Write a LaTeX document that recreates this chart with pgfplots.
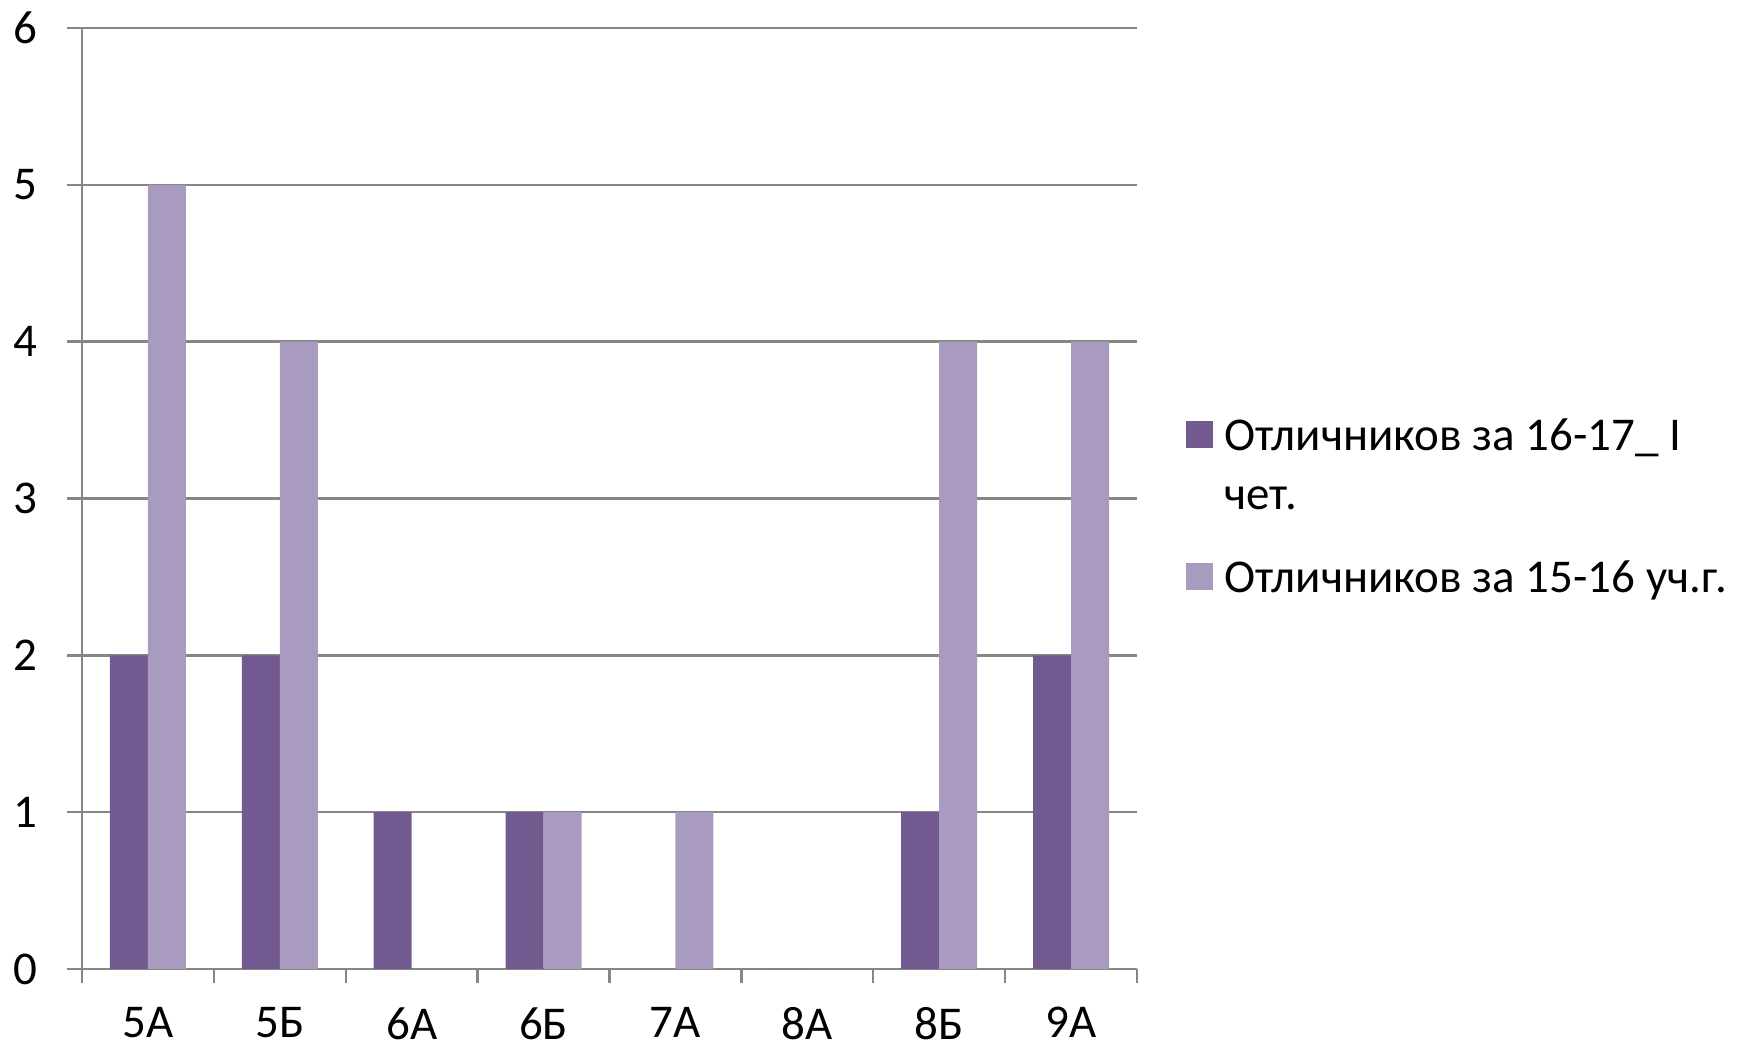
\documentclass[border=0pt]{standalone}
\usepackage{fontspec}
\setmainfont{Carlito}
\usepackage{pgfplots}
\pgfplotsset{compat=1.18}
\definecolor{darkpurple}{RGB}{114,90,145}
\definecolor{lightpurple}{RGB}{169,155,192}
\definecolor{gridgray}{RGB}{134,134,134}
\begin{document}
\fontsize{23.5}{29.5}\selectfont
\begin{tikzpicture}
\useasboundingbox (0,0) rectangle (870.5pt,525pt);
\begin{axis}[
  at={(41pt,40.5pt)}, anchor=south west,
  scale only axis, width=527.5pt, height=470.5pt,
  xmin=-0.5, xmax=7.5, ymin=0, ymax=6,
  ybar=0pt, bar width=19pt,
  xtick=data,
  xticklabels={5А,5Б,6А,6Б,7А,8А,8Б,9А},
  minor xtick={-0.5,0.5,1.5,2.5,3.5,4.5,5.5,6.5,7.5},
  ytick={0,1,2,3,4,5,6},
  axis x line*=bottom, axis y line*=left,
  axis line style={gridgray, line width=1.2pt},
  tick style={gridgray, line width=1.2pt},
  major x tick style={draw=none},
  tick align=outside,
  major tick length=7.5pt, minor tick length=7pt,
  ymajorgrids,
  major grid style={gridgray, line width=1.2pt},
  /pgf/number format/assume math mode=true,
  xticklabel style={anchor=north, inner sep=0pt, text depth=0pt, yshift=-11.5pt},
  yticklabel style={anchor=east, inner sep=0pt, xshift=-14.5pt},
  legend style={draw=none, fill=none, inner sep=0pt, outer sep=0pt,
    at={(axis description cs:1.0465,0.5850)}, anchor=north west,
    font=\fontsize{23.5}{29.5}\selectfont,
    nodes={inner sep=0pt},
    cells={anchor=north west, align=left},
    row sep=22pt,
    /tikz/every odd column/.append style={column sep=5.5pt}},
  legend image code/.code={\fill[#1] (0pt,-1.25pt) rectangle (13.5pt,-14.75pt);},
]
\addplot[fill=darkpurple, draw=none] coordinates {
  (0,2) (1,2) (2,1) (3,1) (4,0) (5,0) (6,1) (7,2)};
\addlegendentry{Отличников за 16-17\_ I\\чет.}
\addplot[fill=lightpurple, draw=none] coordinates {
  (0,5) (1,4) (2,0) (3,1) (4,1) (5,0) (6,4) (7,4)};
\addlegendentry{Отличников за 15-16 уч.г.}
\end{axis}
\end{tikzpicture}
\end{document}
